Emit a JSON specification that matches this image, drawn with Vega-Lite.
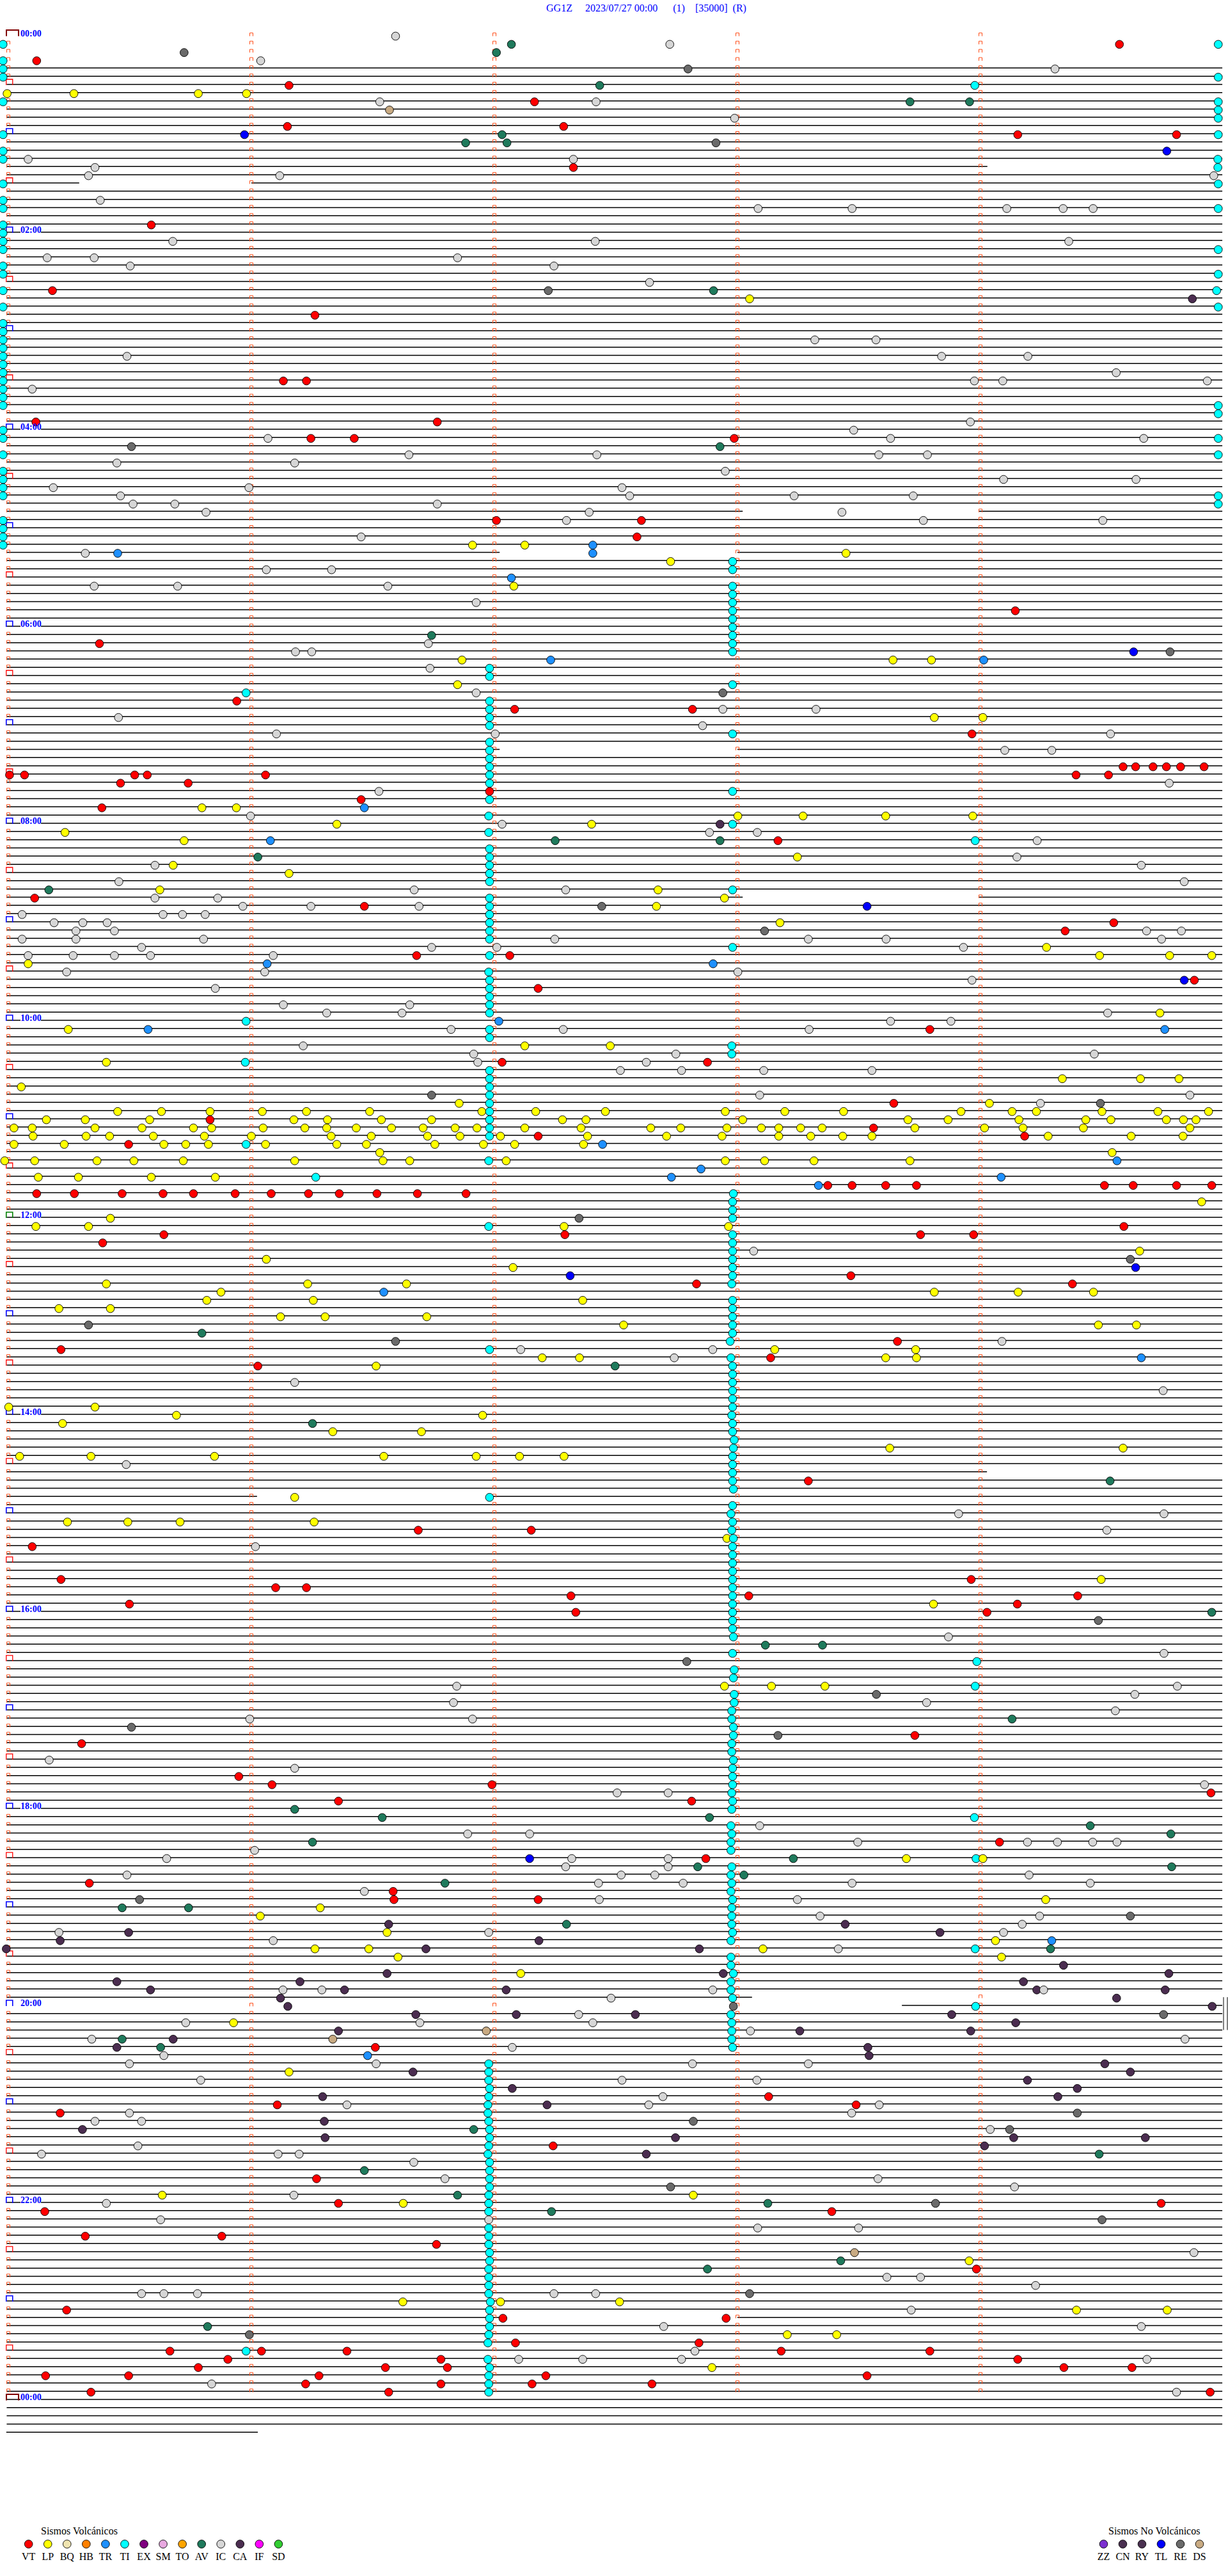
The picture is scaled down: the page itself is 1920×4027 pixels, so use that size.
{
"$schema":"https://vega.github.io/schema/vega-lite/v6.json",
"width":1920,"height":4027,"autosize":"none","padding":0,"background":"#ffffff",
"config":{"view":{"stroke":null}},
"datasets":{
"rows":[{"r":0},{"r":1},{"r":2},{"r":3},{"r":4},{"r":5},{"r":6},{"r":7},{"r":8},{"r":9},{"r":10},{"r":11},{"r":12},{"r":13},{"r":14},{"r":15},{"r":16},{"r":17},{"r":18},{"r":19},{"r":20},{"r":21},{"r":22},{"r":23},{"r":24},{"r":25},{"r":26},{"r":27},{"r":28},{"r":29},{"r":30},{"r":31},{"r":32},{"r":33},{"r":34},{"r":35},{"r":36},{"r":37},{"r":38},{"r":39},{"r":40},{"r":41},{"r":42},{"r":43},{"r":44},{"r":45},{"r":46},{"r":47},{"r":48},{"r":49},{"r":50},{"r":51},{"r":52},{"r":53},{"r":54},{"r":55},{"r":56},{"r":57},{"r":58},{"r":59},{"r":60},{"r":61},{"r":62},{"r":63},{"r":64},{"r":65},{"r":66},{"r":67},{"r":68},{"r":69},{"r":70},{"r":71},{"r":72},{"r":73},{"r":74},{"r":75},{"r":76},{"r":77},{"r":78},{"r":79},{"r":80},{"r":81},{"r":82},{"r":83},{"r":84},{"r":85},{"r":86},{"r":87},{"r":88},{"r":89},{"r":90},{"r":91},{"r":92},{"r":93},{"r":94},{"r":95},{"r":96},{"r":97},{"r":98},{"r":99},{"r":100},{"r":101},{"r":102},{"r":103},{"r":104},{"r":105},{"r":106},{"r":107},{"r":108},{"r":109},{"r":110},{"r":111},{"r":112},{"r":113},{"r":114},{"r":115},{"r":116},{"r":117},{"r":118},{"r":119},{"r":120},{"r":121},{"r":122},{"r":123},{"r":124},{"r":125},{"r":126},{"r":127},{"r":128},{"r":129},{"r":130},{"r":131},{"r":132},{"r":133},{"r":134},{"r":135},{"r":136},{"r":137},{"r":138},{"r":139},{"r":140},{"r":141},{"r":142},{"r":143},{"r":144},{"r":145},{"r":146},{"r":147},{"r":148},{"r":149},{"r":150},{"r":151},{"r":152},{"r":153},{"r":154},{"r":155},{"r":156},{"r":157},{"r":158},{"r":159},{"r":160},{"r":161},{"r":162},{"r":163},{"r":164},{"r":165},{"r":166},{"r":167},{"r":168},{"r":169},{"r":170},{"r":171},{"r":172},{"r":173},{"r":174},{"r":175},{"r":176},{"r":177},{"r":178},{"r":179},{"r":180},{"r":181},{"r":182},{"r":183},{"r":184},{"r":185},{"r":186},{"r":187},{"r":188},{"r":189},{"r":190},{"r":191},{"r":192},{"r":193},{"r":194},{"r":195},{"r":196},{"r":197},{"r":198},{"r":199},{"r":200},{"r":201},{"r":202},{"r":203},{"r":204},{"r":205},{"r":206},{"r":207},{"r":208},{"r":209},{"r":210},{"r":211},{"r":212},{"r":213},{"r":214},{"r":215},{"r":216},{"r":217},{"r":218},{"r":219},{"r":220},{"r":221},{"r":222},{"r":223},{"r":224},{"r":225},{"r":226},{"r":227},{"r":228},{"r":229},{"r":230},{"r":231},{"r":232},{"r":233},{"r":234},{"r":235},{"r":236},{"r":237},{"r":238},{"r":239},{"r":240},{"r":241},{"r":242},{"r":243},{"r":244},{"r":245},{"r":246},{"r":247},{"r":248},{"r":249},{"r":250},{"r":251},{"r":252},{"r":253},{"r":254},{"r":255},{"r":256},{"r":257},{"r":258},{"r":259},{"r":260},{"r":261},{"r":262},{"r":263},{"r":264},{"r":265},{"r":266},{"r":267},{"r":268},{"r":269},{"r":270},{"r":271},{"r":272},{"r":273},{"r":274},{"r":275},{"r":276},{"r":277},{"r":278},{"r":279},{"r":280},{"r":281},{"r":282},{"r":283},{"r":284},{"r":285},{"r":286},{"r":287},{"r":288},{"r":289},{"r":290},{"r":291},{"r":292}],
"segs":[{"r":16,"a":-0.4,"b":241.7},{"r":18,"a":-0.4,"b":17.5},{"r":18,"a":60,"b":299.7},{"r":58,"a":-0.4,"b":181.3},{"r":58,"a":239.7,"b":299.7},{"r":63,"a":-0.4,"b":121.3},{"r":63,"a":180,"b":299.7},{"r":87,"a":-0.4,"b":121.3},{"r":87,"a":180,"b":299.7},{"r":105,"a":-0.4,"b":181.3},{"r":105,"a":239.7,"b":299.7},{"r":175,"a":-0.4,"b":241.6},{"r":178,"a":-0.4,"b":61.4},{"r":178,"a":119.5,"b":299.7},{"r":239,"a":-0.4,"b":183.6},{"r":240,"a":220.6,"b":299.7},{"r":278,"a":-0.4,"b":123},{"r":278,"a":180,"b":299.7},{"r":292,"a":-0.5,"b":61.6}],
"labels":[{"r":0,"l":"00:00"},{"r":24,"l":"02:00"},{"r":48,"l":"04:00"},{"r":72,"l":"06:00"},{"r":96,"l":"08:00"},{"r":120,"l":"10:00"},{"r":144,"l":"12:00"},{"r":168,"l":"14:00"},{"r":192,"l":"16:00"},{"r":216,"l":"18:00"},{"r":240,"l":"20:00"},{"r":264,"l":"22:00"},{"r":288,"l":"00:00"}],
"ev":[
{"r":0,"t":95.6,"c":"IC"},
{"r":1,"t":-1.3,"c":"TI"},{"r":1,"t":124.2,"c":"AV"},{"r":1,"t":163.3,"c":"IC"},{"r":1,"t":274.3,"c":"VT"},{"r":1,"t":298.7,"c":"TI"},
{"r":2,"t":43.4,"c":"RE"},{"r":2,"t":120.5,"c":"AV"},
{"r":3,"t":-1.3,"c":"TI"},{"r":3,"t":7,"c":"VT"},{"r":3,"t":62.3,"c":"IC"},
{"r":4,"t":-1.3,"c":"TI"},{"r":4,"t":167.8,"c":"RE"},{"r":4,"t":258.4,"c":"IC"},
{"r":5,"t":-1.3,"c":"TI"},{"r":5,"t":298.7,"c":"TI"},
{"r":6,"t":69.3,"c":"VT"},{"r":6,"t":146,"c":"AV"},{"r":6,"t":238.6,"c":"TI"},
{"r":7,"t":-0.3,"c":"LP"},{"r":7,"t":16.2,"c":"LP"},{"r":7,"t":46.9,"c":"LP"},{"r":7,"t":58.8,"c":"LP"},
{"r":8,"t":-1.3,"c":"TI"},{"r":8,"t":91.7,"c":"IC"},{"r":8,"t":129.9,"c":"VT"},{"r":8,"t":145.1,"c":"IC"},{"r":8,"t":222.6,"c":"AV"},{"r":8,"t":237.3,"c":"AV"},{"r":8,"t":298.7,"c":"TI"},
{"r":9,"t":94.1,"c":"DS"},{"r":9,"t":298.7,"c":"TI"},
{"r":10,"t":179.3,"c":"IC"},{"r":10,"t":298.7,"c":"TI"},
{"r":11,"t":68.9,"c":"VT"},{"r":11,"t":137.1,"c":"VT"},
{"r":12,"t":-1.3,"c":"TI"},{"r":12,"t":58.3,"c":"TL"},{"r":12,"t":121.9,"c":"AV"},{"r":12,"t":249.2,"c":"VT"},{"r":12,"t":288.4,"c":"VT"},{"r":12,"t":298.7,"c":"TI"},
{"r":13,"t":112.9,"c":"AV"},{"r":13,"t":123.1,"c":"AV"},{"r":13,"t":174.7,"c":"RE"},
{"r":14,"t":-1.3,"c":"TI"},{"r":14,"t":286,"c":"TL"},
{"r":15,"t":-1.3,"c":"TI"},{"r":15,"t":4.9,"c":"IC"},{"r":15,"t":139.5,"c":"IC"},{"r":15,"t":298.6,"c":"TI"},
{"r":16,"t":21.4,"c":"IC"},{"r":16,"t":139.5,"c":"VT"},{"r":16,"t":298.6,"c":"TI"},
{"r":17,"t":19.8,"c":"IC"},{"r":17,"t":67,"c":"IC"},{"r":17,"t":297.6,"c":"IC"},
{"r":18,"t":-1.3,"c":"TI"},{"r":18,"t":298.7,"c":"TI"},
{"r":20,"t":-1.3,"c":"TI"},{"r":20,"t":22.7,"c":"IC"},
{"r":21,"t":-1.3,"c":"TI"},{"r":21,"t":185.1,"c":"IC"},{"r":21,"t":208.3,"c":"IC"},{"r":21,"t":246.5,"c":"IC"},{"r":21,"t":260.4,"c":"IC"},{"r":21,"t":267.8,"c":"IC"},{"r":21,"t":298.7,"c":"TI"},
{"r":23,"t":-1.3,"c":"TI"},{"r":23,"t":35.3,"c":"VT"},
{"r":24,"t":-1.3,"c":"TI"},
{"r":25,"t":-1.3,"c":"TI"},{"r":25,"t":40.6,"c":"IC"},{"r":25,"t":144.9,"c":"IC"},{"r":25,"t":261.8,"c":"IC"},
{"r":26,"t":-1.3,"c":"TI"},{"r":26,"t":298.7,"c":"TI"},
{"r":27,"t":9.6,"c":"IC"},{"r":27,"t":21.2,"c":"IC"},{"r":27,"t":110.9,"c":"IC"},
{"r":28,"t":-1.3,"c":"TI"},{"r":28,"t":30.1,"c":"IC"},{"r":28,"t":134.7,"c":"IC"},
{"r":29,"t":-1.3,"c":"TI"},{"r":29,"t":298.7,"c":"TI"},
{"r":30,"t":158.3,"c":"IC"},
{"r":31,"t":-1.3,"c":"TI"},{"r":31,"t":10.9,"c":"VT"},{"r":31,"t":133.3,"c":"RE"},{"r":31,"t":174.1,"c":"AV"},{"r":31,"t":298.3,"c":"TI"},
{"r":32,"t":183,"c":"LP"},{"r":32,"t":292.3,"c":"CA"},
{"r":33,"t":-1.3,"c":"TI"},{"r":33,"t":298.7,"c":"TI"},
{"r":34,"t":75.7,"c":"VT"},
{"r":35,"t":-1.3,"c":"TI"},
{"r":36,"t":-1.3,"c":"TI"},
{"r":37,"t":-1.3,"c":"TI"},{"r":37,"t":199.1,"c":"IC"},{"r":37,"t":214.2,"c":"IC"},
{"r":38,"t":-1.3,"c":"TI"},
{"r":39,"t":-1.3,"c":"TI"},{"r":39,"t":29.3,"c":"IC"},{"r":39,"t":230.4,"c":"IC"},{"r":39,"t":251.7,"c":"IC"},
{"r":40,"t":-1.3,"c":"TI"},
{"r":41,"t":-1.3,"c":"TI"},{"r":41,"t":273.5,"c":"IC"},
{"r":42,"t":-1.3,"c":"TI"},{"r":42,"t":67.9,"c":"VT"},{"r":42,"t":73.6,"c":"VT"},{"r":42,"t":238.5,"c":"IC"},{"r":42,"t":245.5,"c":"IC"},{"r":42,"t":296,"c":"IC"},
{"r":43,"t":-1.3,"c":"TI"},{"r":43,"t":5.9,"c":"IC"},
{"r":44,"t":-1.3,"c":"TI"},
{"r":45,"t":-1.3,"c":"TI"},{"r":45,"t":298.7,"c":"TI"},
{"r":46,"t":298.7,"c":"TI"},
{"r":47,"t":6.8,"c":"VT"},{"r":47,"t":105.9,"c":"VT"},{"r":47,"t":237.5,"c":"IC"},
{"r":48,"t":-1.3,"c":"TI"},{"r":48,"t":208.7,"c":"IC"},
{"r":49,"t":-1.3,"c":"TI"},{"r":49,"t":64.1,"c":"IC"},{"r":49,"t":74.7,"c":"VT"},{"r":49,"t":85.4,"c":"VT"},{"r":49,"t":179.2,"c":"VT"},{"r":49,"t":217.8,"c":"IC"},{"r":49,"t":280.3,"c":"IC"},{"r":49,"t":298.7,"c":"TI"},
{"r":50,"t":30.4,"c":"RE"},{"r":50,"t":175.7,"c":"AV"},
{"r":51,"t":-1.3,"c":"TI"},{"r":51,"t":98.9,"c":"IC"},{"r":51,"t":145.3,"c":"IC"},{"r":51,"t":214.9,"c":"IC"},{"r":51,"t":226.9,"c":"IC"},{"r":51,"t":298.7,"c":"TI"},
{"r":52,"t":26.8,"c":"IC"},{"r":52,"t":70.7,"c":"IC"},
{"r":53,"t":-1.3,"c":"TI"},{"r":53,"t":177,"c":"IC"},
{"r":54,"t":-1.3,"c":"TI"},{"r":54,"t":245.7,"c":"IC"},{"r":54,"t":278.4,"c":"IC"},
{"r":55,"t":-1.3,"c":"TI"},{"r":55,"t":11.1,"c":"IC"},{"r":55,"t":59.4,"c":"IC"},{"r":55,"t":151.5,"c":"IC"},
{"r":56,"t":-1.3,"c":"TI"},{"r":56,"t":27.7,"c":"IC"},{"r":56,"t":153.4,"c":"IC"},{"r":56,"t":194,"c":"IC"},{"r":56,"t":223.4,"c":"IC"},{"r":56,"t":298.7,"c":"TI"},
{"r":57,"t":30.8,"c":"IC"},{"r":57,"t":41.1,"c":"IC"},{"r":57,"t":105.9,"c":"IC"},{"r":57,"t":298.7,"c":"TI"},
{"r":58,"t":48.8,"c":"IC"},{"r":58,"t":143.4,"c":"IC"},{"r":58,"t":205.8,"c":"IC"},
{"r":59,"t":-1.3,"c":"TI"},{"r":59,"t":120.5,"c":"VT"},{"r":59,"t":137.8,"c":"IC"},{"r":59,"t":156.3,"c":"VT"},{"r":59,"t":225.9,"c":"IC"},{"r":59,"t":270.2,"c":"IC"},
{"r":60,"t":-1.3,"c":"TI"},
{"r":61,"t":-1.3,"c":"TI"},{"r":61,"t":87.1,"c":"IC"},{"r":61,"t":155.2,"c":"VT"},
{"r":62,"t":-1.3,"c":"TI"},{"r":62,"t":114.6,"c":"LP"},{"r":62,"t":127.5,"c":"LP"},{"r":62,"t":144.3,"c":"TR"},
{"r":63,"t":19,"c":"IC"},{"r":63,"t":27,"c":"TR"},{"r":63,"t":144.3,"c":"TR"},{"r":63,"t":206.8,"c":"LP"},
{"r":64,"t":163.5,"c":"LP"},{"r":64,"t":178.8,"c":"TI"},
{"r":65,"t":63.7,"c":"IC"},{"r":65,"t":79.8,"c":"IC"},{"r":65,"t":178.8,"c":"TI"},
{"r":66,"t":124.2,"c":"TR"},
{"r":67,"t":21.2,"c":"IC"},{"r":67,"t":41.8,"c":"IC"},{"r":67,"t":93.7,"c":"IC"},{"r":67,"t":124.8,"c":"LP"},{"r":67,"t":178.8,"c":"TI"},
{"r":68,"t":178.8,"c":"TI"},
{"r":69,"t":115.5,"c":"IC"},{"r":69,"t":178.8,"c":"TI"},
{"r":70,"t":178.8,"c":"TI"},{"r":70,"t":248.6,"c":"VT"},
{"r":71,"t":178.8,"c":"TI"},
{"r":72,"t":178.8,"c":"TI"},
{"r":73,"t":104.5,"c":"AV"},{"r":73,"t":178.8,"c":"TI"},
{"r":74,"t":22.5,"c":"VT"},{"r":74,"t":103.7,"c":"IC"},{"r":74,"t":178.8,"c":"TI"},
{"r":75,"t":70.9,"c":"IC"},{"r":75,"t":74.9,"c":"IC"},{"r":75,"t":178.8,"c":"TI"},{"r":75,"t":277.8,"c":"TL"},{"r":75,"t":286.8,"c":"RE"},
{"r":76,"t":112,"c":"LP"},{"r":76,"t":133.9,"c":"TR"},{"r":76,"t":218.4,"c":"LP"},{"r":76,"t":227.9,"c":"LP"},{"r":76,"t":240.8,"c":"TR"},
{"r":77,"t":104.1,"c":"IC"},{"r":77,"t":118.8,"c":"TI"},
{"r":78,"t":118.8,"c":"TI"},
{"r":79,"t":110.9,"c":"LP"},{"r":79,"t":178.8,"c":"TI"},
{"r":80,"t":58.7,"c":"TI"},{"r":80,"t":115.5,"c":"IC"},{"r":80,"t":176.4,"c":"RE"},
{"r":81,"t":56.4,"c":"VT"},{"r":81,"t":118.8,"c":"TI"},
{"r":82,"t":118.8,"c":"TI"},{"r":82,"t":125,"c":"VT"},{"r":82,"t":168.9,"c":"VT"},{"r":82,"t":176.4,"c":"IC"},{"r":82,"t":199.4,"c":"IC"},
{"r":83,"t":27.2,"c":"IC"},{"r":83,"t":118.8,"c":"TI"},{"r":83,"t":228.6,"c":"LP"},{"r":83,"t":240.6,"c":"LP"},
{"r":84,"t":118.8,"c":"TI"},{"r":84,"t":171.4,"c":"IC"},
{"r":85,"t":66.2,"c":"IC"},{"r":85,"t":120.2,"c":"IC"},{"r":85,"t":178.8,"c":"TI"},{"r":85,"t":237.9,"c":"VT"},{"r":85,"t":272.1,"c":"IC"},
{"r":86,"t":118.8,"c":"TI"},
{"r":87,"t":118.8,"c":"TI"},{"r":87,"t":246,"c":"IC"},{"r":87,"t":257.6,"c":"IC"},
{"r":88,"t":118.8,"c":"TI"},
{"r":89,"t":118.8,"c":"TI"},{"r":89,"t":275.2,"c":"VT"},{"r":89,"t":278.3,"c":"VT"},{"r":89,"t":282.6,"c":"VT"},{"r":89,"t":285.9,"c":"VT"},{"r":89,"t":289.4,"c":"VT"},{"r":89,"t":295.2,"c":"VT"},
{"r":90,"t":0.3,"c":"VT"},{"r":90,"t":4,"c":"VT"},{"r":90,"t":31.2,"c":"VT"},{"r":90,"t":34.3,"c":"VT"},{"r":90,"t":63.5,"c":"VT"},{"r":90,"t":118.8,"c":"TI"},{"r":90,"t":263.6,"c":"VT"},{"r":90,"t":271.6,"c":"VT"},
{"r":91,"t":27.7,"c":"VT"},{"r":91,"t":44.4,"c":"VT"},{"r":91,"t":118.8,"c":"TI"},{"r":91,"t":286.6,"c":"IC"},
{"r":92,"t":91.5,"c":"IC"},{"r":92,"t":118.8,"c":"VT"},{"r":92,"t":178.8,"c":"TI"},
{"r":93,"t":87.1,"c":"VT"},{"r":93,"t":118.8,"c":"TI"},
{"r":94,"t":23.1,"c":"VT"},{"r":94,"t":47.8,"c":"LP"},{"r":94,"t":56.3,"c":"LP"},{"r":94,"t":87.9,"c":"TR"},
{"r":95,"t":59.8,"c":"IC"},{"r":95,"t":118.6,"c":"TI"},{"r":95,"t":180.1,"c":"LP"},{"r":95,"t":196.2,"c":"LP"},{"r":95,"t":216.6,"c":"LP"},{"r":95,"t":238.1,"c":"LP"},
{"r":96,"t":81.1,"c":"LP"},{"r":96,"t":121.9,"c":"IC"},{"r":96,"t":144,"c":"LP"},{"r":96,"t":175.7,"c":"CA"},{"r":96,"t":178.8,"c":"TI"},
{"r":97,"t":14,"c":"LP"},{"r":97,"t":118.6,"c":"TI"},{"r":97,"t":173.1,"c":"IC"},{"r":97,"t":184.9,"c":"IC"},
{"r":98,"t":43.4,"c":"LP"},{"r":98,"t":64.7,"c":"TR"},{"r":98,"t":135,"c":"AV"},{"r":98,"t":175.7,"c":"AV"},{"r":98,"t":190,"c":"VT"},{"r":98,"t":238.7,"c":"TI"},{"r":98,"t":254,"c":"IC"},
{"r":99,"t":118.8,"c":"TI"},
{"r":100,"t":61.6,"c":"AV"},{"r":100,"t":118.8,"c":"TI"},{"r":100,"t":194.8,"c":"LP"},{"r":100,"t":249,"c":"IC"},
{"r":101,"t":36.2,"c":"IC"},{"r":101,"t":40.7,"c":"LP"},{"r":101,"t":118.8,"c":"TI"},{"r":101,"t":279.7,"c":"IC"},
{"r":102,"t":69.3,"c":"LP"},{"r":102,"t":118.8,"c":"TI"},
{"r":103,"t":27.3,"c":"IC"},{"r":103,"t":118.8,"c":"TI"},{"r":103,"t":290.3,"c":"IC"},
{"r":104,"t":10,"c":"AV"},{"r":104,"t":37.4,"c":"LP"},{"r":104,"t":100.2,"c":"IC"},{"r":104,"t":137.6,"c":"IC"},{"r":104,"t":160.4,"c":"LP"},{"r":104,"t":178.8,"c":"TI"},
{"r":105,"t":6.5,"c":"VT"},{"r":105,"t":36.2,"c":"IC"},{"r":105,"t":51.7,"c":"IC"},{"r":105,"t":118.8,"c":"TI"},{"r":105,"t":176.8,"c":"LP"},
{"r":106,"t":57.9,"c":"IC"},{"r":106,"t":74.7,"c":"IC"},{"r":106,"t":87.9,"c":"VT"},{"r":106,"t":101.4,"c":"IC"},{"r":106,"t":118.8,"c":"TI"},{"r":106,"t":146.5,"c":"RE"},{"r":106,"t":160,"c":"LP"},{"r":106,"t":212,"c":"TL"},
{"r":107,"t":3.4,"c":"IC"},{"r":107,"t":38.2,"c":"IC"},{"r":107,"t":43,"c":"IC"},{"r":107,"t":48.6,"c":"IC"},{"r":107,"t":118.8,"c":"TI"},
{"r":108,"t":11.3,"c":"IC"},{"r":108,"t":18.4,"c":"IC"},{"r":108,"t":24.4,"c":"IC"},{"r":108,"t":118.8,"c":"TI"},{"r":108,"t":190.5,"c":"LP"},{"r":108,"t":272.9,"c":"VT"},
{"r":109,"t":16.7,"c":"IC"},{"r":109,"t":26.2,"c":"IC"},{"r":109,"t":118.8,"c":"TI"},{"r":109,"t":186.7,"c":"RE"},{"r":109,"t":260.9,"c":"VT"},{"r":109,"t":281,"c":"IC"},{"r":109,"t":289.6,"c":"IC"},
{"r":110,"t":3.4,"c":"IC"},{"r":110,"t":16.7,"c":"IC"},{"r":110,"t":48.2,"c":"IC"},{"r":110,"t":118.8,"c":"TI"},{"r":110,"t":134.9,"c":"IC"},{"r":110,"t":197.5,"c":"IC"},{"r":110,"t":216.7,"c":"IC"},{"r":110,"t":284.7,"c":"IC"},
{"r":111,"t":32.9,"c":"IC"},{"r":111,"t":104.5,"c":"IC"},{"r":111,"t":120.6,"c":"IC"},{"r":111,"t":178.8,"c":"TI"},{"r":111,"t":235.8,"c":"IC"},{"r":111,"t":256.3,"c":"LP"},
{"r":112,"t":4.9,"c":"IC"},{"r":112,"t":16,"c":"IC"},{"r":112,"t":26.2,"c":"IC"},{"r":112,"t":35.1,"c":"IC"},{"r":112,"t":65.4,"c":"IC"},{"r":112,"t":100.8,"c":"VT"},{"r":112,"t":118.8,"c":"TI"},{"r":112,"t":123.8,"c":"VT"},{"r":112,"t":269.4,"c":"LP"},{"r":112,"t":286.7,"c":"LP"},{"r":112,"t":297.1,"c":"LP"},
{"r":113,"t":4.9,"c":"LP"},{"r":113,"t":63.9,"c":"TR"},{"r":113,"t":174,"c":"TR"},
{"r":114,"t":14.4,"c":"IC"},{"r":114,"t":63.3,"c":"IC"},{"r":114,"t":118.6,"c":"TI"},{"r":114,"t":180.1,"c":"IC"},
{"r":115,"t":118.8,"c":"TI"},{"r":115,"t":237.9,"c":"IC"},{"r":115,"t":290.3,"c":"TL"},{"r":115,"t":292.8,"c":"VT"},
{"r":116,"t":51.1,"c":"IC"},{"r":116,"t":118.8,"c":"TI"},{"r":116,"t":130.8,"c":"VT"},
{"r":117,"t":118.8,"c":"TI"},
{"r":118,"t":67.9,"c":"IC"},{"r":118,"t":99.1,"c":"IC"},{"r":118,"t":118.8,"c":"TI"},
{"r":119,"t":78.6,"c":"IC"},{"r":119,"t":97.2,"c":"IC"},{"r":119,"t":118.8,"c":"TI"},{"r":119,"t":271.4,"c":"IC"},{"r":119,"t":284.3,"c":"LP"},
{"r":120,"t":58.7,"c":"TI"},{"r":120,"t":121.1,"c":"TR"},{"r":120,"t":217.8,"c":"IC"},{"r":120,"t":232.7,"c":"IC"},
{"r":121,"t":14.8,"c":"LP"},{"r":121,"t":34.5,"c":"TR"},{"r":121,"t":109.3,"c":"IC"},{"r":121,"t":118.8,"c":"TI"},{"r":121,"t":137,"c":"IC"},{"r":121,"t":197.7,"c":"IC"},{"r":121,"t":227.5,"c":"VT"},{"r":121,"t":285.5,"c":"TR"},
{"r":122,"t":118.8,"c":"TI"},
{"r":123,"t":72.8,"c":"IC"},{"r":123,"t":127.5,"c":"LP"},{"r":123,"t":148.6,"c":"LP"},{"r":123,"t":178.6,"c":"TI"},
{"r":124,"t":114.9,"c":"IC"},{"r":124,"t":164.8,"c":"IC"},{"r":124,"t":178.6,"c":"TI"},{"r":124,"t":268.1,"c":"IC"},
{"r":125,"t":24.2,"c":"LP"},{"r":125,"t":58.5,"c":"TI"},{"r":125,"t":115.9,"c":"IC"},{"r":125,"t":121.9,"c":"VT"},{"r":125,"t":157.5,"c":"IC"},{"r":125,"t":172.6,"c":"VT"},
{"r":126,"t":118.8,"c":"TI"},{"r":126,"t":151.1,"c":"IC"},{"r":126,"t":166.2,"c":"IC"},{"r":126,"t":186.5,"c":"IC"},{"r":126,"t":213.2,"c":"IC"},
{"r":127,"t":118.8,"c":"TI"},{"r":127,"t":260.2,"c":"LP"},{"r":127,"t":279.5,"c":"LP"},{"r":127,"t":289,"c":"LP"},
{"r":128,"t":3.2,"c":"LP"},{"r":128,"t":118.8,"c":"TI"},
{"r":129,"t":104.5,"c":"RE"},{"r":129,"t":118.8,"c":"TI"},{"r":129,"t":185.5,"c":"IC"},{"r":129,"t":291.7,"c":"IC"},
{"r":130,"t":111.3,"c":"LP"},{"r":130,"t":118.8,"c":"TI"},{"r":130,"t":218.6,"c":"VT"},{"r":130,"t":242.2,"c":"LP"},{"r":130,"t":254.8,"c":"IC"},{"r":130,"t":269.6,"c":"RE"},
{"r":131,"t":27,"c":"LP"},{"r":131,"t":37.8,"c":"LP"},{"r":131,"t":49.8,"c":"LP"},{"r":131,"t":62.7,"c":"LP"},{"r":131,"t":73.6,"c":"LP"},{"r":131,"t":89.2,"c":"LP"},{"r":131,"t":116.9,"c":"LP"},{"r":131,"t":118.8,"c":"TI"},{"r":131,"t":130.2,"c":"LP"},{"r":131,"t":147.4,"c":"LP"},{"r":131,"t":177,"c":"LP"},{"r":131,"t":191.7,"c":"LP"},{"r":131,"t":206.2,"c":"LP"},{"r":131,"t":235.2,"c":"LP"},{"r":131,"t":247.8,"c":"LP"},{"r":131,"t":253.8,"c":"LP"},{"r":131,"t":270,"c":"LP"},{"r":131,"t":283.8,"c":"LP"},{"r":131,"t":296.3,"c":"LP"},
{"r":132,"t":9.4,"c":"LP"},{"r":132,"t":19,"c":"LP"},{"r":132,"t":34.9,"c":"LP"},{"r":132,"t":49.8,"c":"VT"},{"r":132,"t":70.5,"c":"LP"},{"r":132,"t":78.8,"c":"LP"},{"r":132,"t":92.1,"c":"LP"},{"r":132,"t":104.5,"c":"LP"},{"r":132,"t":118.8,"c":"TI"},{"r":132,"t":136.8,"c":"LP"},{"r":132,"t":142.6,"c":"LP"},{"r":132,"t":181.3,"c":"LP"},{"r":132,"t":222.1,"c":"LP"},{"r":132,"t":232,"c":"LP"},{"r":132,"t":249.5,"c":"LP"},{"r":132,"t":266,"c":"LP"},{"r":132,"t":272.2,"c":"LP"},{"r":132,"t":285.9,"c":"LP"},{"r":132,"t":290.1,"c":"LP"},{"r":132,"t":293.2,"c":"LP"},
{"r":133,"t":1.4,"c":"LP"},{"r":133,"t":5.9,"c":"LP"},{"r":133,"t":21.4,"c":"LP"},{"r":133,"t":33,"c":"LP"},{"r":133,"t":45.7,"c":"LP"},{"r":133,"t":50.2,"c":"LP"},{"r":133,"t":62.9,"c":"LP"},{"r":133,"t":73.2,"c":"LP"},{"r":133,"t":78.6,"c":"LP"},{"r":133,"t":85.9,"c":"LP"},{"r":133,"t":94.6,"c":"LP"},{"r":133,"t":102.4,"c":"LP"},{"r":133,"t":110.3,"c":"LP"},{"r":133,"t":115.7,"c":"LP"},{"r":133,"t":118.8,"c":"TI"},{"r":133,"t":127.5,"c":"LP"},{"r":133,"t":141.4,"c":"LP"},{"r":133,"t":158.6,"c":"LP"},{"r":133,"t":166,"c":"LP"},{"r":133,"t":177.4,"c":"LP"},{"r":133,"t":185.9,"c":"LP"},{"r":133,"t":190.2,"c":"LP"},{"r":133,"t":195.6,"c":"LP"},{"r":133,"t":200.9,"c":"LP"},{"r":133,"t":213.6,"c":"VT"},{"r":133,"t":223.8,"c":"LP"},{"r":133,"t":241,"c":"LP"},{"r":133,"t":250.5,"c":"LP"},{"r":133,"t":265.4,"c":"LP"},{"r":133,"t":291.7,"c":"LP"},
{"r":134,"t":6.1,"c":"LP"},{"r":134,"t":19.2,"c":"LP"},{"r":134,"t":25,"c":"LP"},{"r":134,"t":35.8,"c":"LP"},{"r":134,"t":48.4,"c":"LP"},{"r":134,"t":60,"c":"LP"},{"r":134,"t":79.7,"c":"LP"},{"r":134,"t":89.6,"c":"LP"},{"r":134,"t":103.5,"c":"LP"},{"r":134,"t":111.5,"c":"LP"},{"r":134,"t":118.8,"c":"TI"},{"r":134,"t":121.5,"c":"LP"},{"r":134,"t":130.8,"c":"VT"},{"r":134,"t":143,"c":"LP"},{"r":134,"t":162.5,"c":"LP"},{"r":134,"t":176.2,"c":"LP"},{"r":134,"t":190.2,"c":"LP"},{"r":134,"t":198.1,"c":"LP"},{"r":134,"t":206,"c":"LP"},{"r":134,"t":213.2,"c":"LP"},{"r":134,"t":250.9,"c":"VT"},{"r":134,"t":256.7,"c":"LP"},{"r":134,"t":277.2,"c":"LP"},{"r":134,"t":290,"c":"LP"},
{"r":135,"t":1.4,"c":"LP"},{"r":135,"t":13.8,"c":"LP"},{"r":135,"t":29.7,"c":"VT"},{"r":135,"t":38.4,"c":"LP"},{"r":135,"t":43.8,"c":"LP"},{"r":135,"t":49.4,"c":"LP"},{"r":135,"t":58.7,"c":"TI"},{"r":135,"t":63.5,"c":"LP"},{"r":135,"t":81.1,"c":"LP"},{"r":135,"t":88.4,"c":"LP"},{"r":135,"t":105.3,"c":"LP"},{"r":135,"t":117.3,"c":"LP"},{"r":135,"t":125,"c":"LP"},{"r":135,"t":142,"c":"LP"},{"r":135,"t":146.7,"c":"TR"},
{"r":136,"t":91.7,"c":"LP"},{"r":136,"t":272.5,"c":"LP"},
{"r":137,"t":-0.9,"c":"LP"},{"r":137,"t":6.5,"c":"LP"},{"r":137,"t":21.9,"c":"LP"},{"r":137,"t":31,"c":"LP"},{"r":137,"t":43.2,"c":"LP"},{"r":137,"t":70.7,"c":"LP"},{"r":137,"t":92.5,"c":"LP"},{"r":137,"t":99.1,"c":"LP"},{"r":137,"t":118.6,"c":"TI"},{"r":137,"t":122.9,"c":"LP"},{"r":137,"t":177,"c":"LP"},{"r":137,"t":186.7,"c":"LP"},{"r":137,"t":198.9,"c":"LP"},{"r":137,"t":222.6,"c":"LP"},{"r":137,"t":273.7,"c":"TR"},
{"r":138,"t":171,"c":"TR"},
{"r":139,"t":7.4,"c":"LP"},{"r":139,"t":17.3,"c":"LP"},{"r":139,"t":35.3,"c":"LP"},{"r":139,"t":51.1,"c":"LP"},{"r":139,"t":75.9,"c":"TI"},{"r":139,"t":163.7,"c":"TR"},{"r":139,"t":245.1,"c":"TR"},
{"r":140,"t":200,"c":"TR"},{"r":140,"t":202.3,"c":"VT"},{"r":140,"t":208.3,"c":"VT"},{"r":140,"t":216.6,"c":"VT"},{"r":140,"t":224.2,"c":"VT"},{"r":140,"t":270.6,"c":"VT"},{"r":140,"t":277.7,"c":"VT"},{"r":140,"t":288.4,"c":"VT"},{"r":140,"t":297.1,"c":"VT"},
{"r":141,"t":7,"c":"VT"},{"r":141,"t":16.3,"c":"VT"},{"r":141,"t":28.1,"c":"VT"},{"r":141,"t":38.2,"c":"VT"},{"r":141,"t":45.7,"c":"VT"},{"r":141,"t":56,"c":"VT"},{"r":141,"t":64.9,"c":"VT"},{"r":141,"t":74.1,"c":"VT"},{"r":141,"t":81.7,"c":"VT"},{"r":141,"t":91,"c":"VT"},{"r":141,"t":101,"c":"VT"},{"r":141,"t":113,"c":"VT"},{"r":141,"t":179,"c":"TI"},
{"r":142,"t":178.8,"c":"TI"},{"r":142,"t":294.6,"c":"LP"},
{"r":143,"t":178.8,"c":"TI"},
{"r":144,"t":25.2,"c":"LP"},{"r":144,"t":140.9,"c":"RE"},{"r":144,"t":178.8,"c":"TI"},
{"r":145,"t":6.8,"c":"LP"},{"r":145,"t":19.8,"c":"LP"},{"r":145,"t":118.6,"c":"TI"},{"r":145,"t":137.2,"c":"LP"},{"r":145,"t":177.8,"c":"LP"},{"r":145,"t":275.4,"c":"VT"},
{"r":146,"t":38.4,"c":"VT"},{"r":146,"t":137.4,"c":"VT"},{"r":146,"t":178.8,"c":"TI"},{"r":146,"t":225.2,"c":"VT"},{"r":146,"t":238.3,"c":"VT"},
{"r":147,"t":23.3,"c":"VT"},{"r":147,"t":178.8,"c":"TI"},
{"r":148,"t":178.8,"c":"TI"},{"r":148,"t":184,"c":"IC"},{"r":148,"t":279.3,"c":"LP"},
{"r":149,"t":63.7,"c":"LP"},{"r":149,"t":178.8,"c":"TI"},{"r":149,"t":277,"c":"RE"},
{"r":150,"t":124.6,"c":"LP"},{"r":150,"t":178.8,"c":"TI"},{"r":150,"t":278.3,"c":"TL"},
{"r":151,"t":138.7,"c":"TL"},{"r":151,"t":178.8,"c":"TI"},{"r":151,"t":208,"c":"VT"},
{"r":152,"t":24.2,"c":"LP"},{"r":152,"t":73.9,"c":"LP"},{"r":152,"t":98.3,"c":"LP"},{"r":152,"t":169.9,"c":"VT"},{"r":152,"t":178.6,"c":"TI"},{"r":152,"t":262.7,"c":"VT"},
{"r":153,"t":52.5,"c":"LP"},{"r":153,"t":92.7,"c":"TR"},{"r":153,"t":228.6,"c":"LP"},{"r":153,"t":249.3,"c":"LP"},{"r":153,"t":267.9,"c":"LP"},
{"r":154,"t":49,"c":"LP"},{"r":154,"t":75.3,"c":"LP"},{"r":154,"t":141.8,"c":"LP"},{"r":154,"t":178.8,"c":"TI"},
{"r":155,"t":12.5,"c":"LP"},{"r":155,"t":25.2,"c":"LP"},{"r":155,"t":178.8,"c":"TI"},
{"r":156,"t":67.2,"c":"LP"},{"r":156,"t":78.2,"c":"LP"},{"r":156,"t":103.3,"c":"LP"},{"r":156,"t":178.8,"c":"TI"},
{"r":157,"t":19.8,"c":"RE"},{"r":157,"t":151.9,"c":"LP"},{"r":157,"t":178.8,"c":"TI"},{"r":157,"t":269.1,"c":"LP"},{"r":157,"t":278.5,"c":"LP"},
{"r":158,"t":47.8,"c":"AV"},{"r":158,"t":178.8,"c":"TI"},
{"r":159,"t":95.6,"c":"RE"},{"r":159,"t":178.2,"c":"TI"},{"r":159,"t":219.5,"c":"VT"},{"r":159,"t":245.3,"c":"IC"},
{"r":160,"t":13,"c":"VT"},{"r":160,"t":118.8,"c":"TI"},{"r":160,"t":126.5,"c":"IC"},{"r":160,"t":173.9,"c":"IC"},{"r":160,"t":189.2,"c":"LP"},{"r":160,"t":224,"c":"LP"},
{"r":161,"t":131.8,"c":"LP"},{"r":161,"t":141,"c":"LP"},{"r":161,"t":164.4,"c":"IC"},{"r":161,"t":178.4,"c":"TI"},{"r":161,"t":188.2,"c":"VT"},{"r":161,"t":216.6,"c":"LP"},{"r":161,"t":224.2,"c":"LP"},{"r":161,"t":279.7,"c":"TR"},
{"r":162,"t":61.6,"c":"VT"},{"r":162,"t":90.8,"c":"LP"},{"r":162,"t":149.8,"c":"AV"},{"r":162,"t":178.8,"c":"TI"},
{"r":163,"t":178.8,"c":"TI"},
{"r":164,"t":70.7,"c":"IC"},{"r":164,"t":178.8,"c":"TI"},
{"r":165,"t":178.8,"c":"TI"},{"r":165,"t":285.1,"c":"IC"},
{"r":166,"t":178.8,"c":"TI"},
{"r":167,"t":0.1,"c":"LP"},{"r":167,"t":21.4,"c":"LP"},{"r":167,"t":178.8,"c":"TI"},
{"r":168,"t":41.5,"c":"LP"},{"r":168,"t":117.1,"c":"LP"},{"r":168,"t":178.6,"c":"TI"},
{"r":169,"t":13.4,"c":"LP"},{"r":169,"t":75.1,"c":"AV"},{"r":169,"t":178.8,"c":"TI"},
{"r":170,"t":80.1,"c":"LP"},{"r":170,"t":102,"c":"LP"},{"r":170,"t":178.8,"c":"TI"},
{"r":171,"t":179.2,"c":"TI"},
{"r":172,"t":179,"c":"TI"},{"r":172,"t":217.6,"c":"LP"},{"r":172,"t":275.2,"c":"LP"},
{"r":173,"t":2.8,"c":"LP"},{"r":173,"t":20.4,"c":"LP"},{"r":173,"t":50.9,"c":"LP"},{"r":173,"t":92.7,"c":"LP"},{"r":173,"t":115.5,"c":"LP"},{"r":173,"t":126.2,"c":"LP"},{"r":173,"t":137.2,"c":"LP"},{"r":173,"t":178.8,"c":"TI"},
{"r":174,"t":29.1,"c":"IC"},{"r":174,"t":178.8,"c":"TI"},
{"r":175,"t":178.8,"c":"TI"},
{"r":176,"t":178.8,"c":"TI"},{"r":176,"t":197.5,"c":"VT"},{"r":176,"t":272,"c":"AV"},
{"r":177,"t":179,"c":"TI"},
{"r":178,"t":70.7,"c":"LP"},{"r":178,"t":118.8,"c":"TI"},
{"r":179,"t":178.8,"c":"TI"},
{"r":180,"t":178.4,"c":"TI"},{"r":180,"t":234.6,"c":"IC"},{"r":180,"t":285.3,"c":"IC"},
{"r":181,"t":14.6,"c":"LP"},{"r":181,"t":29.5,"c":"LP"},{"r":181,"t":42.4,"c":"LP"},{"r":181,"t":75.5,"c":"LP"},{"r":181,"t":178.8,"c":"TI"},
{"r":182,"t":101.2,"c":"VT"},{"r":182,"t":129.1,"c":"VT"},{"r":182,"t":178.6,"c":"TI"},{"r":182,"t":271.2,"c":"IC"},
{"r":183,"t":177.4,"c":"LP"},{"r":183,"t":179,"c":"TI"},
{"r":184,"t":5.9,"c":"VT"},{"r":184,"t":61,"c":"IC"},{"r":184,"t":178.8,"c":"TI"},
{"r":185,"t":178.8,"c":"TI"},
{"r":186,"t":178.8,"c":"TI"},
{"r":187,"t":178.8,"c":"TI"},
{"r":188,"t":13,"c":"VT"},{"r":188,"t":178.8,"c":"TI"},{"r":188,"t":237.7,"c":"VT"},{"r":188,"t":269.8,"c":"LP"},
{"r":189,"t":66,"c":"VT"},{"r":189,"t":73.6,"c":"VT"},{"r":189,"t":178.8,"c":"TI"},
{"r":190,"t":138.9,"c":"VT"},{"r":190,"t":178.8,"c":"TI"},{"r":190,"t":182.8,"c":"VT"},{"r":190,"t":264,"c":"VT"},
{"r":191,"t":29.9,"c":"VT"},{"r":191,"t":178.8,"c":"TI"},{"r":191,"t":228.4,"c":"LP"},{"r":191,"t":249.1,"c":"VT"},
{"r":192,"t":140.1,"c":"VT"},{"r":192,"t":178.8,"c":"TI"},{"r":192,"t":241.6,"c":"VT"},{"r":192,"t":297.1,"c":"AV"},
{"r":193,"t":178.8,"c":"TI"},{"r":193,"t":269.1,"c":"RE"},
{"r":194,"t":178.8,"c":"TI"},
{"r":195,"t":179,"c":"TI"},{"r":195,"t":232.1,"c":"IC"},
{"r":196,"t":186.9,"c":"AV"},{"r":196,"t":201,"c":"AV"},
{"r":197,"t":178.8,"c":"TI"},{"r":197,"t":285.3,"c":"IC"},
{"r":198,"t":167.5,"c":"RE"},{"r":198,"t":239.1,"c":"TI"},
{"r":199,"t":179.2,"c":"TI"},
{"r":200,"t":179,"c":"TI"},
{"r":201,"t":110.7,"c":"IC"},{"r":201,"t":176.8,"c":"LP"},{"r":201,"t":188.4,"c":"LP"},{"r":201,"t":201.6,"c":"LP"},{"r":201,"t":238.7,"c":"TI"},{"r":201,"t":288.6,"c":"IC"},
{"r":202,"t":179.2,"c":"TI"},{"r":202,"t":214.3,"c":"RE"},{"r":202,"t":278.1,"c":"IC"},
{"r":203,"t":109.9,"c":"IC"},{"r":203,"t":179.2,"c":"TI"},{"r":203,"t":226.7,"c":"IC"},
{"r":204,"t":178.6,"c":"TI"},{"r":204,"t":273.3,"c":"IC"},
{"r":205,"t":59.6,"c":"IC"},{"r":205,"t":114.6,"c":"IC"},{"r":205,"t":178.6,"c":"TI"},{"r":205,"t":247.8,"c":"AV"},
{"r":206,"t":30.4,"c":"RE"},{"r":206,"t":179,"c":"TI"},
{"r":207,"t":179,"c":"TI"},{"r":207,"t":190,"c":"RE"},{"r":207,"t":223.8,"c":"VT"},
{"r":208,"t":18.1,"c":"VT"},{"r":208,"t":178.6,"c":"TI"},
{"r":209,"t":178.6,"c":"TI"},
{"r":210,"t":10.1,"c":"IC"},{"r":210,"t":179,"c":"TI"},
{"r":211,"t":70.7,"c":"IC"},{"r":211,"t":178.8,"c":"TI"},
{"r":212,"t":56.9,"c":"VT"},{"r":212,"t":178.8,"c":"TI"},
{"r":213,"t":65.1,"c":"VT"},{"r":213,"t":119.4,"c":"VT"},{"r":213,"t":178.8,"c":"TI"},{"r":213,"t":295.3,"c":"IC"},
{"r":214,"t":150.3,"c":"IC"},{"r":214,"t":162.9,"c":"IC"},{"r":214,"t":178.6,"c":"TI"},{"r":214,"t":296.9,"c":"VT"},
{"r":215,"t":81.5,"c":"VT"},{"r":215,"t":168.7,"c":"VT"},{"r":215,"t":178.8,"c":"TI"},
{"r":216,"t":70.7,"c":"AV"},{"r":216,"t":178.6,"c":"TI"},
{"r":217,"t":92.3,"c":"AV"},{"r":217,"t":173.1,"c":"AV"},{"r":217,"t":238.5,"c":"TI"},
{"r":218,"t":178.4,"c":"TI"},{"r":218,"t":185.5,"c":"IC"},{"r":218,"t":267.1,"c":"AV"},
{"r":219,"t":113.4,"c":"IC"},{"r":219,"t":128.7,"c":"IC"},{"r":219,"t":178.6,"c":"TI"},{"r":219,"t":287,"c":"AV"},
{"r":220,"t":75.1,"c":"AV"},{"r":220,"t":178.4,"c":"TI"},{"r":220,"t":209.7,"c":"IC"},{"r":220,"t":244.7,"c":"VT"},{"r":220,"t":251.6,"c":"IC"},{"r":220,"t":259,"c":"IC"},{"r":220,"t":267.7,"c":"IC"},{"r":220,"t":273.7,"c":"IC"},
{"r":221,"t":60.8,"c":"IC"},{"r":221,"t":178.4,"c":"TI"},
{"r":222,"t":39.1,"c":"IC"},{"r":222,"t":128.7,"c":"TL"},{"r":222,"t":139.1,"c":"IC"},{"r":222,"t":162.9,"c":"IC"},{"r":222,"t":172.2,"c":"VT"},{"r":222,"t":193.8,"c":"AV"},{"r":222,"t":221.7,"c":"LP"},{"r":222,"t":238.9,"c":"TI"},{"r":222,"t":240.6,"c":"LP"},
{"r":223,"t":137.6,"c":"IC"},{"r":223,"t":162.9,"c":"IC"},{"r":223,"t":170.2,"c":"AV"},{"r":223,"t":178.6,"c":"TI"},{"r":223,"t":287.2,"c":"AV"},
{"r":224,"t":29.3,"c":"IC"},{"r":224,"t":151.3,"c":"IC"},{"r":224,"t":159.6,"c":"IC"},{"r":224,"t":178.4,"c":"TI"},{"r":224,"t":181.6,"c":"AV"},{"r":224,"t":252,"c":"IC"},
{"r":225,"t":20,"c":"VT"},{"r":225,"t":107.8,"c":"AV"},{"r":225,"t":145.7,"c":"IC"},{"r":225,"t":166.6,"c":"IC"},{"r":225,"t":178.6,"c":"TI"},{"r":225,"t":208.3,"c":"IC"},{"r":225,"t":267.1,"c":"IC"},
{"r":226,"t":87.9,"c":"IC"},{"r":226,"t":95,"c":"VT"},{"r":226,"t":178.4,"c":"TI"},
{"r":227,"t":32.4,"c":"RE"},{"r":227,"t":95.2,"c":"VT"},{"r":227,"t":130.8,"c":"VT"},{"r":227,"t":145.9,"c":"IC"},{"r":227,"t":178.8,"c":"TI"},{"r":227,"t":194.8,"c":"IC"},{"r":227,"t":256.1,"c":"LP"},
{"r":228,"t":28.1,"c":"AV"},{"r":228,"t":44.5,"c":"AV"},{"r":228,"t":77,"c":"LP"},{"r":228,"t":178.6,"c":"TI"},
{"r":229,"t":62.2,"c":"LP"},{"r":229,"t":178.6,"c":"TI"},{"r":229,"t":200.4,"c":"IC"},{"r":229,"t":254.6,"c":"IC"},{"r":229,"t":277,"c":"RE"},
{"r":230,"t":93.9,"c":"CA"},{"r":230,"t":137.8,"c":"AV"},{"r":230,"t":178.6,"c":"TI"},{"r":230,"t":206.6,"c":"CA"},{"r":230,"t":250.3,"c":"IC"},
{"r":231,"t":12.5,"c":"IC"},{"r":231,"t":29.7,"c":"CA"},{"r":231,"t":93.5,"c":"LP"},{"r":231,"t":118.6,"c":"IC"},{"r":231,"t":178.8,"c":"TI"},{"r":231,"t":230,"c":"CA"},{"r":231,"t":245.7,"c":"IC"},
{"r":232,"t":12.8,"c":"CA"},{"r":232,"t":65.4,"c":"IC"},{"r":232,"t":131,"c":"CA"},{"r":232,"t":178.4,"c":"TI"},{"r":232,"t":243.7,"c":"LP"},{"r":232,"t":257.6,"c":"TR"},
{"r":233,"t":-0.5,"c":"CA"},{"r":233,"t":75.7,"c":"LP"},{"r":233,"t":89,"c":"LP"},{"r":233,"t":103.1,"c":"CA"},{"r":233,"t":170.6,"c":"CA"},{"r":233,"t":186.3,"c":"LP"},{"r":233,"t":204.9,"c":"IC"},{"r":233,"t":238.7,"c":"TI"},{"r":233,"t":257.3,"c":"AV"},
{"r":234,"t":96.2,"c":"LP"},{"r":234,"t":178.4,"c":"TI"},{"r":234,"t":245.2,"c":"LP"},
{"r":235,"t":178.4,"c":"TI"},{"r":235,"t":260.5,"c":"CA"},
{"r":236,"t":93.5,"c":"CA"},{"r":236,"t":126.5,"c":"LP"},{"r":236,"t":176.5,"c":"CA"},{"r":236,"t":179,"c":"TI"},{"r":236,"t":286.5,"c":"CA"},
{"r":237,"t":26.8,"c":"CA"},{"r":237,"t":72,"c":"CA"},{"r":237,"t":178.4,"c":"TI"},{"r":237,"t":250.6,"c":"CA"},
{"r":238,"t":35.1,"c":"CA"},{"r":238,"t":67.8,"c":"IC"},{"r":238,"t":77.4,"c":"IC"},{"r":238,"t":83,"c":"CA"},{"r":238,"t":122.9,"c":"CA"},{"r":238,"t":173.9,"c":"IC"},{"r":238,"t":178.4,"c":"TI"},{"r":238,"t":253.9,"c":"CA"},{"r":238,"t":255.6,"c":"IC"},{"r":238,"t":285.6,"c":"CA"},
{"r":239,"t":67.2,"c":"CA"},{"r":239,"t":148.8,"c":"IC"},{"r":239,"t":178.8,"c":"TI"},{"r":239,"t":273.6,"c":"CA"},
{"r":240,"t":69,"c":"CA"},{"r":240,"t":179,"c":"RE"},{"r":240,"t":238.8,"c":"TI"},{"r":240,"t":297.2,"c":"CA"},
{"r":241,"t":100.6,"c":"CA"},{"r":241,"t":125.4,"c":"CA"},{"r":241,"t":140.8,"c":"IC"},{"r":241,"t":154.8,"c":"CA"},{"r":241,"t":178.4,"c":"TI"},{"r":241,"t":232.9,"c":"CA"},{"r":241,"t":285.2,"c":"RE"},
{"r":242,"t":43.8,"c":"IC"},{"r":242,"t":55.6,"c":"LP"},{"r":242,"t":101.6,"c":"IC"},{"r":242,"t":144.3,"c":"IC"},{"r":242,"t":178.6,"c":"TI"},{"r":242,"t":248.7,"c":"CA"},
{"r":243,"t":81.5,"c":"CA"},{"r":243,"t":118,"c":"DS"},{"r":243,"t":178.6,"c":"TI"},{"r":243,"t":183.2,"c":"IC"},{"r":243,"t":195.4,"c":"CA"},{"r":243,"t":237.6,"c":"CA"},
{"r":244,"t":20.6,"c":"IC"},{"r":244,"t":28.1,"c":"AV"},{"r":244,"t":40.7,"c":"CA"},{"r":244,"t":80.1,"c":"DS"},{"r":244,"t":178.6,"c":"TI"},{"r":244,"t":290.5,"c":"IC"},
{"r":245,"t":26.8,"c":"CA"},{"r":245,"t":37.6,"c":"AV"},{"r":245,"t":90.6,"c":"VT"},{"r":245,"t":124.4,"c":"IC"},{"r":245,"t":178.8,"c":"TI"},{"r":245,"t":212.2,"c":"CA"},
{"r":246,"t":38.4,"c":"IC"},{"r":246,"t":88.7,"c":"TR"},{"r":246,"t":212.5,"c":"CA"},
{"r":247,"t":29.9,"c":"IC"},{"r":247,"t":90.8,"c":"IC"},{"r":247,"t":118.6,"c":"TI"},{"r":247,"t":168.9,"c":"IC"},{"r":247,"t":197.5,"c":"IC"},{"r":247,"t":270.7,"c":"CA"},
{"r":248,"t":69.3,"c":"LP"},{"r":248,"t":99.9,"c":"CA"},{"r":248,"t":118.6,"c":"TI"},{"r":248,"t":277,"c":"CA"},
{"r":249,"t":47.5,"c":"IC"},{"r":249,"t":118.6,"c":"TI"},{"r":249,"t":151.5,"c":"IC"},{"r":249,"t":184.8,"c":"IC"},{"r":249,"t":251.6,"c":"CA"},
{"r":250,"t":118.8,"c":"TI"},{"r":250,"t":124.4,"c":"CA"},{"r":250,"t":263.9,"c":"CA"},
{"r":251,"t":77.6,"c":"CA"},{"r":251,"t":118.6,"c":"TI"},{"r":251,"t":161.6,"c":"IC"},{"r":251,"t":187.7,"c":"VT"},{"r":251,"t":259.1,"c":"CA"},
{"r":252,"t":66.4,"c":"VT"},{"r":252,"t":83.6,"c":"IC"},{"r":252,"t":118.4,"c":"TI"},{"r":252,"t":133,"c":"CA"},{"r":252,"t":158.1,"c":"IC"},{"r":252,"t":209.3,"c":"VT"},{"r":252,"t":215,"c":"IC"},
{"r":253,"t":12.8,"c":"VT"},{"r":253,"t":29.9,"c":"IC"},{"r":253,"t":118.4,"c":"TI"},{"r":253,"t":208.2,"c":"IC"},{"r":253,"t":263.9,"c":"RE"},
{"r":254,"t":21.4,"c":"IC"},{"r":254,"t":32.9,"c":"IC"},{"r":254,"t":78,"c":"CA"},{"r":254,"t":118.6,"c":"TI"},{"r":254,"t":169.1,"c":"RE"},
{"r":255,"t":18.3,"c":"CA"},{"r":255,"t":114.9,"c":"AV"},{"r":255,"t":118.8,"c":"TI"},{"r":255,"t":242.4,"c":"IC"},{"r":255,"t":247.2,"c":"RE"},
{"r":256,"t":78.2,"c":"CA"},{"r":256,"t":118.8,"c":"TI"},{"r":256,"t":164.7,"c":"CA"},{"r":256,"t":248.2,"c":"CA"},{"r":256,"t":280.7,"c":"CA"},
{"r":257,"t":32,"c":"IC"},{"r":257,"t":118.6,"c":"TI"},{"r":257,"t":134.5,"c":"VT"},{"r":257,"t":241,"c":"CA"},
{"r":258,"t":8.2,"c":"IC"},{"r":258,"t":66.6,"c":"IC"},{"r":258,"t":71.8,"c":"IC"},{"r":258,"t":118.4,"c":"TI"},{"r":258,"t":157.5,"c":"CA"},{"r":258,"t":269.3,"c":"AV"},
{"r":259,"t":100.1,"c":"IC"},{"r":259,"t":118.8,"c":"TI"},
{"r":260,"t":87.9,"c":"AV"},{"r":260,"t":118.8,"c":"TI"},
{"r":261,"t":76.1,"c":"VT"},{"r":261,"t":107.8,"c":"IC"},{"r":261,"t":118.8,"c":"TI"},{"r":261,"t":214.7,"c":"IC"},
{"r":262,"t":118.8,"c":"TI"},{"r":262,"t":163.5,"c":"RE"},{"r":262,"t":248.4,"c":"IC"},
{"r":263,"t":38,"c":"LP"},{"r":263,"t":70.5,"c":"IC"},{"r":263,"t":110.9,"c":"AV"},{"r":263,"t":118.6,"c":"TI"},{"r":263,"t":169.1,"c":"LP"},
{"r":264,"t":24.2,"c":"IC"},{"r":264,"t":81.5,"c":"VT"},{"r":264,"t":97.5,"c":"LP"},{"r":264,"t":118.6,"c":"TI"},{"r":264,"t":187.5,"c":"AV"},{"r":264,"t":228.9,"c":"RE"},{"r":264,"t":284.6,"c":"VT"},
{"r":265,"t":9,"c":"VT"},{"r":265,"t":118.6,"c":"TI"},{"r":265,"t":134.1,"c":"AV"},{"r":265,"t":203.3,"c":"VT"},
{"r":266,"t":37.6,"c":"IC"},{"r":266,"t":118.6,"c":"IC"},{"r":266,"t":270,"c":"RE"},
{"r":267,"t":118.6,"c":"TI"},{"r":267,"t":185,"c":"IC"},{"r":267,"t":209.9,"c":"IC"},
{"r":268,"t":19,"c":"VT"},{"r":268,"t":52.7,"c":"VT"},{"r":268,"t":118.6,"c":"TI"},
{"r":269,"t":105.7,"c":"VT"},{"r":269,"t":118.6,"c":"TI"},
{"r":270,"t":118.8,"c":"TI"},{"r":270,"t":208.9,"c":"DS"},{"r":270,"t":292.7,"c":"IC"},
{"r":271,"t":118.8,"c":"TI"},{"r":271,"t":205.5,"c":"AV"},{"r":271,"t":237.2,"c":"LP"},
{"r":272,"t":118.6,"c":"TI"},{"r":272,"t":172.6,"c":"AV"},{"r":272,"t":239,"c":"VT"},
{"r":273,"t":118.6,"c":"TI"},{"r":273,"t":216.9,"c":"IC"},{"r":273,"t":225.2,"c":"IC"},
{"r":274,"t":118.6,"c":"TI"},{"r":274,"t":253.6,"c":"IC"},
{"r":275,"t":32.9,"c":"IC"},{"r":275,"t":38.4,"c":"IC"},{"r":275,"t":46.7,"c":"IC"},{"r":275,"t":118.6,"c":"TI"},{"r":275,"t":134.7,"c":"IC"},{"r":275,"t":145,"c":"IC"},{"r":275,"t":183,"c":"RE"},
{"r":276,"t":97.4,"c":"LP"},{"r":276,"t":119,"c":"TI"},{"r":276,"t":121.5,"c":"LP"},{"r":276,"t":150.9,"c":"LP"},
{"r":277,"t":14.4,"c":"VT"},{"r":277,"t":118.8,"c":"TI"},{"r":277,"t":222.9,"c":"IC"},{"r":277,"t":263.7,"c":"LP"},{"r":277,"t":286.1,"c":"LP"},
{"r":278,"t":118.8,"c":"TI"},{"r":278,"t":122.1,"c":"VT"},{"r":278,"t":177.2,"c":"VT"},
{"r":279,"t":49.2,"c":"AV"},{"r":279,"t":118.8,"c":"TI"},{"r":279,"t":161.8,"c":"IC"},{"r":279,"t":279.7,"c":"IC"},
{"r":280,"t":59.5,"c":"RE"},{"r":280,"t":118.6,"c":"TI"},{"r":280,"t":192.3,"c":"LP"},{"r":280,"t":204.5,"c":"LP"},
{"r":281,"t":118.4,"c":"TI"},{"r":281,"t":125.2,"c":"VT"},{"r":281,"t":170.5,"c":"VT"},
{"r":282,"t":39.9,"c":"VT"},{"r":282,"t":58.7,"c":"TI"},{"r":282,"t":62.5,"c":"VT"},{"r":282,"t":83.6,"c":"VT"},{"r":282,"t":169.5,"c":"IC"},{"r":282,"t":190.8,"c":"VT"},{"r":282,"t":227.5,"c":"VT"},
{"r":283,"t":54.2,"c":"VT"},{"r":283,"t":106.8,"c":"VT"},{"r":283,"t":118.4,"c":"TI"},{"r":283,"t":126,"c":"IC"},{"r":283,"t":141.8,"c":"IC"},{"r":283,"t":166.2,"c":"IC"},{"r":283,"t":249.2,"c":"VT"},{"r":283,"t":281.1,"c":"IC"},
{"r":284,"t":46.9,"c":"VT"},{"r":284,"t":93.1,"c":"VT"},{"r":284,"t":108.4,"c":"VT"},{"r":284,"t":118.8,"c":"TI"},{"r":284,"t":173.7,"c":"LP"},{"r":284,"t":260.6,"c":"VT"},{"r":284,"t":277.4,"c":"VT"},
{"r":285,"t":9.2,"c":"VT"},{"r":285,"t":29.7,"c":"VT"},{"r":285,"t":76.7,"c":"VT"},{"r":285,"t":118.6,"c":"TI"},{"r":285,"t":132.7,"c":"VT"},{"r":285,"t":212,"c":"VT"},
{"r":286,"t":50.2,"c":"IC"},{"r":286,"t":73.4,"c":"VT"},{"r":286,"t":106.8,"c":"VT"},{"r":286,"t":118.6,"c":"TI"},{"r":286,"t":129.3,"c":"VT"},{"r":286,"t":158.9,"c":"VT"},
{"r":287,"t":20.4,"c":"VT"},{"r":287,"t":93.9,"c":"VT"},{"r":287,"t":118.6,"c":"TI"},{"r":287,"t":288.4,"c":"IC"},{"r":287,"t":296.7,"c":"VT"}
],
"volc":[{"c":"VT"},{"c":"LP"},{"c":"BQ"},{"c":"HB"},{"c":"TR"},{"c":"TI"},{"c":"EX"},{"c":"SM"},{"c":"TO"},{"c":"AV"},{"c":"IC"},{"c":"CA"},{"c":"IF"},{"c":"SD"}],
"novolc":[{"c":"ZZ"},{"c":"CN"},{"c":"RY"},{"c":"TL"},{"c":"RE"},{"c":"DS"}]
},
"layer":[
{"layer":[
{"data":{"name":"rows"},"transform":[{"filter":"datum.r>=4 && datum.r<=291 && indexof([16,18,58,63,87,105,175,178,239,240,278],datum.r)<0"}],
"mark":{"type":"rule","stroke":"#000000","strokeWidth":1.5},
"encoding":{"x":{"datum":-0.4,"type":"quantitative","scale":{"domain":[-2.0526,301.105],"nice":false,"zero":false},"axis":null},"x2":{"datum":299.7},"y":{"field":"r","type":"quantitative","scale":{"domain":[-4.2858,309.51],"reverse":true,"nice":false,"zero":false},"axis":null}}},
{"data":{"name":"segs"},"mark":{"type":"rule","stroke":"#000000","strokeWidth":1.5},
"encoding":{"x":{"field":"a","type":"quantitative","axis":null},"x2":{"field":"b"},"y":{"field":"r","type":"quantitative","axis":null}}},
{"data":{"values":[{"r1":239,"r2":243}]},"mark":{"type":"rule","stroke":"#000000","strokeWidth":1},
"encoding":{"x":{"datum":300.0,"type":"quantitative"},"y":{"field":"r1","type":"quantitative"},"y2":{"field":"r2"}}},
{"data":{"values":[{"r1":239,"r2":243}]},"mark":{"type":"rule","stroke":"#000000","strokeWidth":1},
"encoding":{"x":{"datum":300.95,"type":"quantitative"},"y":{"field":"r1","type":"quantitative"},"y2":{"field":"r2"}}},
{"data":{"name":"labels"},"mark":{"type":"point","shape":"M-1,-0.3H1V0.3H-1Z","filled":true,"fill":"#ffffff","strokeWidth":0,"size":1024,"opacity":1,"yOffset":-1},
"encoding":{"x":{"datum":5.53,"type":"quantitative"},"y":{"field":"r","type":"quantitative"}}},
{"data":{"name":"rows"},"transform":[{"filter":"datum.r<=287 && datum.r%6!=0"}],"mark":{"type":"point","shape":"M-1,1V-1H1V1","filled":false,"stroke":"#ff4f1a","strokeWidth":1,"size":25,"opacity":1,"yOffset":-1},
"encoding":{"x":{"datum":0,"type":"quantitative"},"y":{"field":"r","type":"quantitative"}}},
{"data":{"name":"rows"},"transform":[{"filter":"datum.r<=287"}],"mark":{"type":"point","shape":"M-1,1V-1H1V1","filled":false,"stroke":"#ff4f1a","strokeWidth":1,"size":25,"opacity":1,"yOffset":-1},
"encoding":{"x":{"datum":60,"type":"quantitative"},"y":{"field":"r","type":"quantitative"}}},
{"data":{"name":"rows"},"transform":[{"filter":"datum.r<=287"}],"mark":{"type":"point","shape":"M-1,1V-1H1V1","filled":false,"stroke":"#ff4f1a","strokeWidth":1,"size":25,"opacity":1,"yOffset":-1},
"encoding":{"x":{"datum":120,"type":"quantitative"},"y":{"field":"r","type":"quantitative"}}},
{"data":{"name":"rows"},"transform":[{"filter":"datum.r<=287"}],"mark":{"type":"point","shape":"M-1,1V-1H1V1","filled":false,"stroke":"#ff4f1a","strokeWidth":1,"size":25,"opacity":1,"yOffset":-1},
"encoding":{"x":{"datum":180,"type":"quantitative"},"y":{"field":"r","type":"quantitative"}}},
{"data":{"name":"rows"},"transform":[{"filter":"datum.r<=287"}],"mark":{"type":"point","shape":"M-1,1V-1H1V1","filled":false,"stroke":"#ff4f1a","strokeWidth":1,"size":25,"opacity":1,"yOffset":-1},
"encoding":{"x":{"datum":240,"type":"quantitative"},"y":{"field":"r","type":"quantitative"}}},
{"data":{"name":"rows"},"transform":[{"filter":"datum.r%12==6"}],"mark":{"type":"point","shape":"M-1,0.9V-0.9H1V0.9","filled":false,"stroke":"#ff0000","strokeWidth":1.3,"size":100,"opacity":1,"yOffset":-3.5},
"encoding":{"x":{"datum":0.28,"type":"quantitative"},"y":{"field":"r","type":"quantitative"}}},
{"data":{"name":"rows"},"transform":[{"filter":"datum.r%12==0 && datum.r>0 && datum.r<288 && datum.r!=144"}],"mark":{"type":"point","shape":"M-1,0.9V-0.9H1V0.9","filled":false,"stroke":"#0000ff","strokeWidth":1.6,"size":100,"opacity":1,"yOffset":-3.5},
"encoding":{"x":{"datum":0.28,"type":"quantitative"},"y":{"field":"r","type":"quantitative"}}},
{"data":{"name":"rows"},"transform":[{"filter":"datum.r==144"}],"mark":{"type":"point","shape":"M-1,0.9V-0.9H1V0.9","filled":false,"stroke":"#008000","strokeWidth":1.6,"size":100,"opacity":1,"yOffset":-3.5},
"encoding":{"x":{"datum":0.28,"type":"quantitative"},"y":{"field":"r","type":"quantitative"}}},
{"data":{"name":"rows"},"transform":[{"filter":"datum.r==0 || datum.r==288"}],"mark":{"type":"point","shape":"M-1,0.5V-0.5H1V0.5","filled":false,"stroke":"#800000","strokeWidth":2,"size":361,"opacity":1,"yOffset":-3.3},
"encoding":{"x":{"datum":1.03,"type":"quantitative"},"y":{"field":"r","type":"quantitative"}}},
{"data":{"name":"ev"},"mark":{"type":"point","shape":"circle","filled":true,"size":160,"stroke":"#000000","strokeWidth":0.9,"opacity":1,"yOffset":1.5},
"encoding":{"x":{"field":"t","type":"quantitative"},"y":{"field":"r","type":"quantitative"},
"fill":{"field":"c","type":"nominal","legend":null,"scale":{"domain":["VT","LP","BQ","HB","TR","TI","EX","SM","TO","AV","IC","CA","IF","SD","ZZ","CN","RY","TL","RE","DS"],"range":["#ff0000","#ffff00","#efe4b0","#ff8000","#1e90ff","#00ffff","#800080","#e8a8e0","#ffa500","#1f7a5c","#d6d6d6","#4b2d50","#ff00ff","#32cd32","#7b2fd0","#4a3050","#4a3050","#0000ff","#6a6a6a","#c8aa82"]}}}},
{"data":{"name":"labels"},"mark":{"type":"text","font":"Liberation Serif","fontSize":14,"fontWeight":"bold","fill":"#0000ff","align":"left","baseline":"alphabetic","dy":1.5},
"encoding":{"x":{"datum":3.0,"type":"quantitative"},"y":{"field":"r","type":"quantitative"},"text":{"field":"l"}}},
{"data":{"values":[{"s":"GG1Z\u00a0\u00a0\u00a0\u00a0\u00a02023/07/27 00:00\u00a0\u00a0\u00a0\u00a0\u00a0\u00a0(1)\u00a0\u00a0\u00a0\u00a0[35000]\u00a0\u00a0(R)"}]},
"mark":{"type":"text","font":"Liberation Serif","fontSize":16,"fill":"#0000ff","align":"left","baseline":"alphabetic"},
"encoding":{"x":{"datum":132.8,"type":"quantitative"},"y":{"datum":-2.86,"type":"quantitative"},"text":{"field":"s"}}}
]},
{"data":{"name":"volc"},"layer":[
{"mark":{"type":"point","shape":"circle","filled":true,"size":160,"stroke":"#000000","strokeWidth":0.9,"opacity":1},
"encoding":{"x":{"field":"c","type":"nominal","sort":null,"scale":{"type":"point","domain":["VT","LP","BQ","HB","TR","TI","EX","SM","TO","AV","IC","CA","IF","SD"],"range":[44.7,435.4],"padding":0},"axis":null},
"y":{"datum":305.62,"type":"quantitative"},"fill":{"field":"c","type":"nominal","legend":null}}},
{"mark":{"type":"text","font":"Liberation Serif","fontSize":16,"fill":"#000000","align":"center","baseline":"middle"},
"encoding":{"x":{"field":"c","type":"nominal","sort":null},"y":{"datum":307.17,"type":"quantitative"},"text":{"field":"c"}}},
{"data":{"values":[{"s":"Sismos Volcánicos"}]},"mark":{"type":"text","font":"Liberation Serif","fontSize":16,"fill":"#000000","align":"left","baseline":"middle","dx":19.3},
"encoding":{"x":{"datum":"VT","type":"nominal"},"y":{"datum":304.06,"type":"quantitative"},"text":{"field":"s"}}}
]},
{"data":{"name":"novolc"},"layer":[
{"mark":{"type":"point","shape":"circle","filled":true,"size":160,"stroke":"#000000","strokeWidth":0.9,"opacity":1},
"encoding":{"x":{"field":"c","type":"nominal","sort":null,"scale":{"type":"point","domain":["ZZ","CN","RY","TL","RE","DS"],"range":[1725.5,1875.5],"padding":0},"axis":null},
"y":{"datum":305.62,"type":"quantitative"},"fill":{"field":"c","type":"nominal","legend":null}}},
{"mark":{"type":"text","font":"Liberation Serif","fontSize":16,"fill":"#000000","align":"center","baseline":"middle"},
"encoding":{"x":{"field":"c","type":"nominal","sort":null},"y":{"datum":307.17,"type":"quantitative"},"text":{"field":"c"}}},
{"data":{"values":[{"s":"Sismos No Volcánicos"}]},"mark":{"type":"text","font":"Liberation Serif","fontSize":16,"fill":"#000000","align":"left","baseline":"middle","dx":7.5},
"encoding":{"x":{"datum":"ZZ","type":"nominal"},"y":{"datum":304.06,"type":"quantitative"},"text":{"field":"s"}}}
]}
],
"resolve":{"scale":{"x":"independent"}}
}
